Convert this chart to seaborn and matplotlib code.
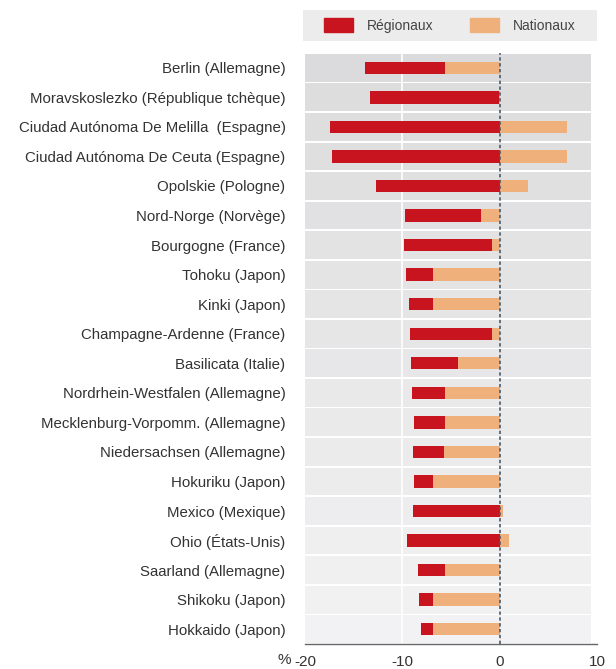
import numpy as np
import pandas as pd
import matplotlib
matplotlib.use("Agg")
import matplotlib.pyplot as plt
import seaborn as sns
from matplotlib.patches import Patch

# Data (%)
regions = [
    "Berlin (Allemagne)",
    "Moravskoslezko (République tchèque)",
    "Ciudad Autónoma De Melilla  (Espagne)",
    "Ciudad Autónoma De Ceuta (Espagne)",
    "Opolskie (Pologne)",
    "Nord-Norge (Norvège)",
    "Bourgogne (France)",
    "Tohoku (Japon)",
    "Kinki (Japon)",
    "Champagne-Ardenne (France)",
    "Basilicata (Italie)",
    "Nordrhein-Westfalen (Allemagne)",
    "Mecklenburg-Vorpomm. (Allemagne)",
    "Niedersachsen (Allemagne)",
    "Hokuriku (Japon)",
    "Mexico (Mexique)",
    "Ohio (États-Unis)",
    "Saarland (Allemagne)",
    "Shikoku (Japon)",
    "Hokkaido (Japon)",
]
regionaux = [-13.8, -13.3, -17.4, -17.2, -12.7, -9.7, -9.8, -9.6, -9.3, -9.2,
             -9.1, -9.0, -8.8, -8.9, -8.8, -8.9, -9.5, -8.4, -8.3, -8.1]
nationaux = [-5.6, -0.1, 6.9, 6.9, 2.9, -1.9, -0.8, -6.8, -6.8, -0.8,
             -4.3, -5.6, -5.6, -5.7, -6.9, 0.3, 1.0, -5.6, -6.8, -6.8]
x_ticks = [-20, -10, 0, 10]

df = pd.DataFrame({"region": regions, "reg": regionaux, "nat": nationaux})

RED = "#c8141e"
TAN = "#efb07c"

sns.set_style("white")
plt.rcParams["font.family"] = ["Liberation Sans", "DejaVu Sans"]

fig = plt.figure(figsize=(6.16, 6.69), dpi=100)
ax = fig.add_axes([305 / 616, 1 - 644 / 669, 292 / 616, (644 - 53) / 669])

# row bands, darker at the top and lighter at the bottom
n = len(regions)
shades = np.linspace(0.86, 0.95, n)
for i, s in enumerate(shades):
    ax.axhspan(i - 0.5 + 0.03, i + 0.5 - 0.03, xmin=0, xmax=286 / 292,
               color=(s, s, s + 0.005), lw=0, zorder=0)
ax.axvline(-10, color="white", lw=1.2, zorder=0.5)

sns.barplot(data=df, y="region", x="reg", orient="h", color=RED,
            width=0.42, saturation=1, linewidth=0, ax=ax, zorder=2)
sns.barplot(data=df, y="region", x="nat", orient="h", color=TAN,
            width=0.42, saturation=1, linewidth=0, ax=ax, zorder=3)

ax.axvline(0, color="#4a5a6a", lw=1.2, ls=(0, (2, 1.5)), zorder=4)

ax.set_xlim(-20, 10)
ax.set_ylim(n - 0.5, -0.5)
ax.set_xticks(x_ticks)
ax.set_xticklabels([str(t) for t in x_ticks], fontsize=11, color="#333333")
ax.tick_params(axis="x", direction="in", length=6, width=1, color="#666666", pad=8)
ax.tick_params(axis="y", length=0, pad=14, labelsize=10.8, labelcolor="#333333")
ax.set_xlabel("")
ax.set_ylabel("")
for side in ["top", "right", "left"]:
    ax.spines[side].set_visible(False)
ax.spines["bottom"].set_color("#666666")
ax.spines["bottom"].set_linewidth(1)
fig.text(278 / 616, 1 - 660 / 669, "%", fontsize=11, color="#333333", va="center")

# legend strip at the top
lax = fig.add_axes([303 / 616, 1 - 41 / 669, 294 / 616, 31 / 669])
lax.set_facecolor("#ececec")
lax.set_xticks([])
lax.set_yticks([])
for sp in lax.spines.values():
    sp.set_visible(False)
handles = [Patch(color=RED, label="Régionaux"), Patch(color=TAN, label="Nationaux")]
lax.legend(handles=handles, loc="center", ncol=2, frameon=False, fontsize=10,
           handlelength=2.1, handleheight=1.1, columnspacing=2.6, handletextpad=1.0,
           labelcolor="#444444")

fig.savefig("out.png", dpi=100)
